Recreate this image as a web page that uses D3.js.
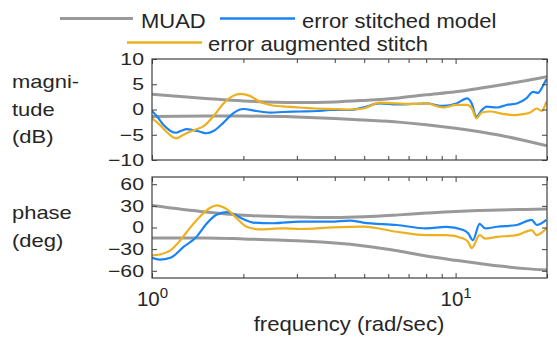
<!DOCTYPE html>
<html><head><meta charset="utf-8">
<script src="https://cdn.jsdelivr.net/npm/d3@7"></script>
<style>body{margin:0;background:#fff}svg{display:block}</style>
</head><body><svg id="c" width="557" height="340"></svg>
<script>
// ---------- data ----------
const seriesNames = ["MUAD", "error stitched model", "error augmented stitch"];
const magTicks = [-10, -5, 0, 5, 10];
const phTicks = [-60, -30, 0, 30, 60];
const xMajorTicks = [1, 10];
const xMinorTicks = [2, 3, 4, 5, 6, 7, 8, 9, 20];
const xTickBase = "10";
const xTickExp = ["0", "1"];

const muadF = [1, 1.5, 2, 3, 4, 5, 6.5, 8, 10, 12, 14, 17, 20];
const muadMagUpper = [3.0, 2.2, 1.7, 1.4, 1.5, 1.8, 2.3, 2.9, 3.5, 4.2, 4.85, 5.7, 6.5];
const muadMagLower = [-1.4, -1.3, -1.3, -1.5, -1.8, -2.1, -2.5, -3.0, -3.7, -4.4, -5.1, -6.2, -7.2];
const muadPhUpper = [30.4, 21.5, 17, 14.5, 13.8, 14.8, 17.5, 20, 22.3, 23.5, 24.3, 25, 25.7];
const muadPhLower = [-14.4, -14.5, -15.8, -18.5, -21.5, -25.5, -32.5, -39.5, -45.5, -50, -53.5, -57, -59];

const blueMagF = [1.0, 1.04, 1.09, 1.2, 1.25, 1.3, 1.37, 1.44, 1.51, 1.6, 1.72, 1.85, 2.0, 2.21, 2.45, 2.7, 3.07, 3.5, 3.86, 4.49, 4.96, 5.63, 6.4, 7.25, 8.0, 9.1, 10.06, 10.9, 11.3, 11.7, 12.2, 12.66, 13.7, 14.7, 15.9, 17.1, 18.0, 18.7, 19.2, 19.9];
const blueMag = [-0.3, -1.4, -3.0, -4.6, -4.2, -3.9, -4.1, -4.4, -4.7, -4.2, -2.6, -0.75, 0.1, -0.3, -0.6, -0.5, -0.4, -0.3, -0.1, -0.1, 0.4, 1.2, 1.0, 1.1, 1.2, 0.7, 1.2, 2.2, 1.2, -1.4, -0.1, 0.55, 0.4, 0.9, 1.2, 2.2, 3.5, 3.3, 4.2, 6.0];

const orangeMagF = [1.0, 1.06, 1.12, 1.2, 1.27, 1.37, 1.48, 1.59, 1.72, 1.85, 1.95, 2.1, 2.27, 2.45, 2.7, 3.07, 3.5, 3.95, 4.5, 4.96, 5.63, 6.4, 7.25, 8.0, 9.1, 10.06, 10.9, 11.3, 11.7, 12.2, 13.0, 14.4, 15.6, 16.7, 17.6, 18.5, 19.2, 19.9];
const orangeMag = [-1.75, -3.0, -4.5, -5.7, -5.0, -4.1, -3.3, -1.4, 1.2, 2.7, 3.1, 2.7, 1.5, 0.9, 0.6, 0.4, 0.2, 0.1, 0.0, 0.2, 1.35, 1.2, 1.1, 1.2, 0.4, 0.9, 0.9, 0.3, -1.75, -0.6, -0.4, -0.9, -1.1, -0.9, -0.6, 0.2, -0.3, 1.55];

const bluePhF = [1.0, 1.06, 1.15, 1.27, 1.4, 1.51, 1.63, 1.76, 1.85, 2.0, 2.15, 2.51, 3.07, 3.86, 4.49, 4.96, 6.4, 8.0, 9.3, 10.6, 11.0, 11.4, 12.0, 12.5, 13.7, 15.9, 17.8, 18.5, 19.9];
const bluePh = [-42, -44.5, -42, -27, -13, 5, 17.6, 21.4, 19, 11.5, 6.8, 5.9, 8.2, 8.2, 9.6, 6.8, 3.5, -1.2, 1, -3.5, -8, -17.6, 5, -1.2, 1, 3.5, 10.6, 3.5, 10.6];

const orangePhF = [1.0, 1.06, 1.15, 1.24, 1.33, 1.44, 1.55, 1.63, 1.76, 1.9, 2.05, 2.27, 2.7, 3.07, 3.95, 4.96, 6.4, 8.0, 9.3, 10.6, 11.0, 11.3, 12.0, 12.5, 13.7, 15.9, 17.8, 18.5, 19.9];
const orangePh = [-38.8, -37.4, -31.8, -17.6, -1.2, 15.3, 27, 30.8, 25.7, 13, 1.1, -2.5, -1.2, -2.1, 0.2, 1.2, -5.9, -10.6, -10.6, -15.3, -20, -28.5, -10.6, -15.3, -13, -10.6, -3.5, -10.6, -1.2];

// ---------- styling ----------
const FONT = "'Liberation Sans', Arial, Helvetica, sans-serif";
const TXT = "#262626";
const AX = "#404040";
const GRAY = "#999999", BLUE = "#1b84f5", ORANGE = "#EDB120";
const seriesColors = [GRAY, BLUE, ORANGE];

const svg = d3.select("#c");
const L = 152, R = 547;
const panels = [
  {top: 59, bot: 160, dom: [-10, 10], ticks: magTicks, labels: ["magni-", "tude", "(dB)"],
   muad: [muadMagUpper, muadMagLower], blue: [blueMagF, blueMag], orange: [orangeMagF, orangeMag], bottomLabels: false},
  {top: 177, bot: 278, dom: [-70, 70], ticks: phTicks, labels: ["phase", "(deg)"],
   muad: [muadPhUpper, muadPhLower], blue: [bluePhF, bluePh], orange: [orangePhF, orangePh], bottomLabels: true}
];

const x = d3.scaleLog().domain([1, 20]).range([L, R]);

function stext(g, px, py, str, size, sx, anchor) {
  return g.append("text")
    .attr("transform", `translate(${px},${py}) scale(${sx},1)`)
    .attr("text-anchor", anchor || "start")
    .attr("font-family", FONT).attr("font-size", size).attr("fill", TXT)
    .text(str);
}

function styleAxis(g) {
  g.select(".domain").remove();
  g.selectAll(".tick line").attr("stroke", AX).attr("stroke-width", 1);
}

panels.forEach((p, i) => {
  const y = d3.scaleLinear().domain(p.dom).range([p.bot, p.top]);
  const id = "clip" + i;
  svg.append("clipPath").attr("id", id).append("rect")
    .attr("x", L).attr("y", p.top).attr("width", R - L).attr("height", p.bot - p.top);
  const plot = svg.append("g").attr("clip-path", `url(#${id})`);

  const line = (fs, vs) => d3.line().curve(d3.curveMonotoneX)
      .x((d, k) => x(fs[k])).y(d => y(d))(vs);

  p.muad.forEach(vs => plot.append("path").attr("d", line(muadF, vs))
    .attr("fill", "none").attr("stroke", GRAY).attr("stroke-width", 3));
  plot.append("path").attr("d", line(p.blue[0], p.blue[1]))
    .attr("fill", "none").attr("stroke", BLUE).attr("stroke-width", 2.2).attr("stroke-linejoin", "round");
  plot.append("path").attr("d", line(p.orange[0], p.orange[1]))
    .attr("fill", "none").attr("stroke", ORANGE).attr("stroke-width", 2.2).attr("stroke-linejoin", "round");

  // axes
  const gl = svg.append("g").attr("transform", `translate(${L},0)`)
    .call(d3.axisLeft(y).tickValues(p.ticks).tickSizeInner(-5).tickSizeOuter(0).tickPadding(8));
  styleAxis(gl);
  gl.selectAll(".tick text").attr("font-family", FONT).attr("font-size", 17).attr("fill", TXT)
    .each(function () {
      const t = d3.select(this); const xv = +t.attr("x");
      t.attr("x", 0).attr("transform", `translate(${xv},0) scale(1.25,1)`);
    });
  const gr = svg.append("g").attr("transform", `translate(${R},0)`)
    .call(d3.axisRight(y).tickValues(p.ticks).tickSizeInner(-5).tickSizeOuter(0).tickFormat(""));
  styleAxis(gr);

  [[p.top, d3.axisTop], [p.bot, d3.axisBottom]].forEach(([yy, ax]) => {
    const gM = svg.append("g").attr("transform", `translate(0,${yy})`)
      .call(ax(x).tickValues(xMajorTicks).tickSizeInner(-5).tickSizeOuter(0).tickFormat(""));
    styleAxis(gM);
    const gm = svg.append("g").attr("transform", `translate(0,${yy})`)
      .call(ax(x).tickValues(xMinorTicks).tickSizeInner(-4).tickSizeOuter(0).tickFormat(""));
    styleAxis(gm);
    if (p.bottomLabels && ax === d3.axisBottom) {
      gM.selectAll(".tick").each(function (d, k) {
        const t = d3.select(this).append("text")
          .attr("y", 28).attr("text-anchor", "middle")
          .attr("font-family", FONT).attr("fill", TXT).attr("font-size", 20.5);
        t.append("tspan").text(xTickBase);
        t.append("tspan").attr("font-size", 15).attr("dy", -8).text(xTickExp[k]);
      });
    }
  });

  // box
  svg.append("rect").attr("x", L).attr("y", p.top).attr("width", R - L).attr("height", p.bot - p.top)
    .attr("fill", "none").attr("stroke", AX).attr("stroke-width", 1.2);

  // y label lines
  const mid = (p.top + p.bot) / 2;
  const pitch = 27.5;
  const n = p.labels.length;
  p.labels.forEach((s, k) => {
    const by = mid + 6 + (k - (n - 1) / 2) * pitch;
    stext(svg, 12, by - (i === 1 ? 0.5 : 0), s, 18, 1.22, "start");
  });
});

// x label
stext(svg, (253 + 445) / 2, 331, "frequency (rad/sec)", 20.5, 1.08, "middle");

// legend
const legendItems = [
  {x1: 60, x2: 133, y: 18.5, tx: 141, ty: 27.5},
  {x1: 220, x2: 295, y: 18.5, tx: 302, ty: 27.5},
  {x1: 127, x2: 202, y: 42.5, tx: 208, ty: 50.5}
];
legendItems.forEach((it, k) => {
  svg.append("line").attr("x1", it.x1).attr("x2", it.x2).attr("y1", it.y).attr("y2", it.y)
    .attr("stroke", seriesColors[k]).attr("stroke-width", k === 0 ? 3 : 2.4);
  stext(svg, it.tx, it.ty, seriesNames[k], 20, 1.1, "start");
});
</script></body></html>
